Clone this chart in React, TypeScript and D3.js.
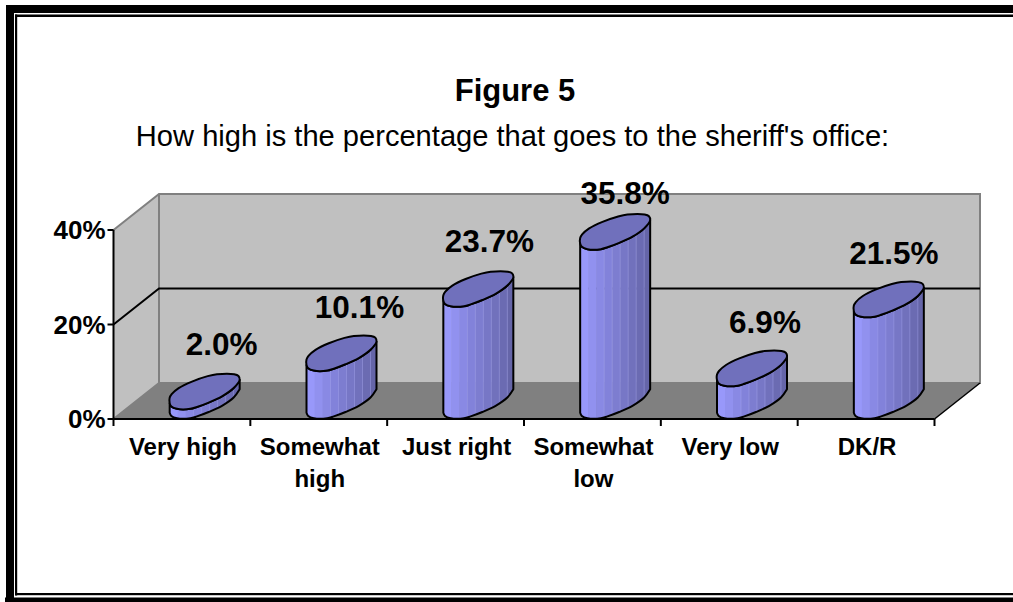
import React from "react";
import * as d3 from "d3";

// Survey shares, in percent, for each answer.
const categories = ["Very high", "Somewhat high", "Just right", "Somewhat low", "Very low", "DK/R"];
const values = [2.0, 10.1, 23.7, 35.8, 6.9, 21.5];
const valueTicks = [0, 20, 40];
const categoryLines = [["Very high"], ["Somewhat", "high"], ["Just right"], ["Somewhat", "low"], ["Very low"], ["DK/R"]];

// Hand placement of the value labels relative to the top of each cylinder.
const labelShiftX = [17, 18, 11, 10, 13, 5];
const labelGap = [20, 18, 20, 11, 18, 18];

const FONT = "'Liberation Sans', Arial, sans-serif";
const W = 1013;
const H = 602;

// The 3D box: front plane plus the offset to the back plane.
const frontLeft = 113.5;
const frontRight = 934.5;
const floorY = 419;
const topY = 230;
const depthX = 45.5;
const depthY = 36;

const x = d3.scaleBand<string>().domain(categories).range([frontLeft, frontRight]);
const y = d3.scaleLinear().domain([0, 40]).range([floorY, topY]);

// Outline of a cylinder's cap around its centre, faceted like an old office-chart solid.
const capRing: [number, number][] = [
  [-35, 6.2], [-33, 2.6], [-26, -3.4], [-12.7, -10], [3, -15.4], [12.3, -17.3], [29.5, -17.3], [33.8, -15.6],
  [35, -11.7], [29, -3.5], [17.3, 4.8], [4, 11], [-7.7, 15.4], [-14.3, 17.3], [-27.7, 17.3], [-33.3, 15], [-35, 11.7],
];
// The part of the cap's outline that faces the viewer, left silhouette to right silhouette.
const frontArc = capRing.slice(8).reverse();

const capLine = d3.line().curve(d3.curveCatmullRomClosed.alpha(0.5));
const arcLine = d3.line().curve(d3.curveCatmullRom.alpha(0.5));

const stripEdges = d3.range(-35, 35, 8);
const shade = d3.scaleLinear<string>().domain([-35, -12, 35]).range(["#9c9cff", "#8686e0", "#6464a6"]);

function Cylinder({ id, cx, base, top }: { id: string; cx: number; base: number; top: number }) {
  const shift = (pts: [number, number][], yy: number) => pts.map(([a, b]) => [cx + a, yy + b] as [number, number]);
  const upper = arcLine(shift(frontArc, top)) as string;
  const lower = arcLine(shift(frontArc.slice().reverse(), base)) as string;
  const side = `${upper}L${lower.slice(1)}Z`;
  const bottomOfCap = top - 18;
  const bottom = base + 18;
  return (
    <g>
      <clipPath id={id}>
        <path d={side} />
      </clipPath>
      <g clipPath={`url(#${id})`}>
        {stripEdges.map((e) => (
          <rect key={e} x={cx + e} y={bottomOfCap} width={8.5} height={bottom - bottomOfCap} fill={shade(e + 4)} />
        ))}
        {stripEdges.slice(3).map((e) => (
          <line key={e} x1={cx + e} x2={cx + e} y1={bottomOfCap} y2={bottom} stroke="#a4a4ea" strokeOpacity={0.45} strokeWidth={1} />
        ))}
      </g>
      <path d={side} fill="none" stroke="#000" strokeWidth={2} strokeLinejoin="round" />
      <path d={capLine(shift(capRing, top)) as string} fill="#7070bc" stroke="#000" strokeWidth={2} strokeLinejoin="round" />
    </g>
  );
}

export default function App() {
  const band = x.bandwidth();
  const backLeft = frontLeft + depthX;
  const backRight = frontRight + depthX;
  const backFloor = floorY - depthY;
  const backTop = topY - depthY;
  const boundaries = [...categories.map((c) => x(c) as number), frontRight];

  return (
    <svg width={W} height={H} viewBox={`0 0 ${W} ${H}`} style={{ position: "absolute", left: 0, top: 0, display: "block" }} fontFamily={FONT}>
      <rect width={W} height={H} fill="#fff" />

      {/* Double page frame, open on the right */}
      <rect x={6} y={5} width={W - 6} height={8} fill="#000" />
      <rect x={6} y={5} width={8} height={H - 5} fill="#000" />
      <rect x={5} y={597.5} width={W - 5} height={4.5} fill="#000" />
      <rect x={15} y={14.5} width={W - 15} height={2.5} fill="#000" />
      <rect x={15} y={14.5} width={2.2} height={581} fill="#000" />
      <rect x={15} y={593} width={W - 15} height={2.2} fill="#000" />

      <text x={515} y={101} textAnchor="middle" fontSize={31} fontWeight="bold">Figure 5</text>
      <text x={512.5} y={146} textAnchor="middle" fontSize={29.1}>How high is the percentage that goes to the sheriff's office:</text>

      {/* Walls and floor */}
      <polygon points={`${frontLeft},${floorY} ${backLeft},${backFloor} ${backLeft},${backTop} ${frontLeft},${topY}`} fill="#c0c0c0" />
      <polygon points={`${backLeft},${backFloor} ${backRight},${backFloor} ${backRight},${backTop} ${backLeft},${backTop}`} fill="#c0c0c0" />
      <polygon points={`${frontLeft},${floorY} ${frontRight},${floorY} ${backRight},${backFloor} ${backLeft},${backFloor}`} fill="#808080" />
      <path
        d={`M${frontLeft},${topY}L${backLeft},${backTop}H${backRight}V${backFloor}H${backLeft}V${backTop}M${frontLeft},${floorY}L${backLeft},${backFloor}`}
        fill="none"
        stroke="#808080"
        strokeWidth={2}
      />

      {/* Gridline across both walls */}
      {valueTicks.filter((t) => t > 0 && t < 40).map((t) => (
        <path key={t} d={`M${frontLeft},${y(t)}L${backLeft},${y(t) - depthY}H${backRight}`} fill="none" stroke="#000" strokeWidth={2} />
      ))}
      <path d={`M${frontRight},${floorY}L${backRight},${backFloor}`} stroke="#000" strokeWidth={1.5} />

      {/* Axes */}
      <path d={`M${frontLeft},${topY}V${floorY}H${frontRight}`} fill="none" stroke="#000" strokeWidth={2} />
      {valueTicks.map((t) => (
        <g key={t}>
          <line x1={frontLeft - 6} x2={frontLeft} y1={y(t)} y2={y(t)} stroke="#000" strokeWidth={2} />
          <text x={frontLeft - 8} y={y(t) + 9} textAnchor="end" fontSize={26} fontWeight="bold">{t}%</text>
        </g>
      ))}
      {boundaries.map((b) => (
        <line key={b} x1={b} x2={b} y1={floorY} y2={floorY + 7} stroke="#000" strokeWidth={2} />
      ))}
      {categories.map((c, i) => (
        <text key={c} textAnchor="middle" fontSize={24} fontWeight="bold">
          {categoryLines[i].map((line, j) => (
            <tspan key={j} x={(x(c) as number) + band / 2 + 1} y={455 + j * 32}>{line}</tspan>
          ))}
        </text>
      ))}

      {/* Cylinders and their value labels */}
      {categories.map((c, i) => {
        const cx = (x(c) as number) + band / 2 + depthX / 2;
        const base = floorY - depthY / 2;
        const top = y(values[i]) - depthY / 2;
        return (
          <g key={c}>
            <Cylinder id={`side-${i}`} cx={cx} base={base} top={top} />
            <text x={cx + labelShiftX[i]} y={top - 17 - labelGap[i]} textAnchor="middle" fontSize={31.5} fontWeight="bold">
              {values[i].toFixed(1)}%
            </text>
          </g>
        );
      })}
    </svg>
  );
}
